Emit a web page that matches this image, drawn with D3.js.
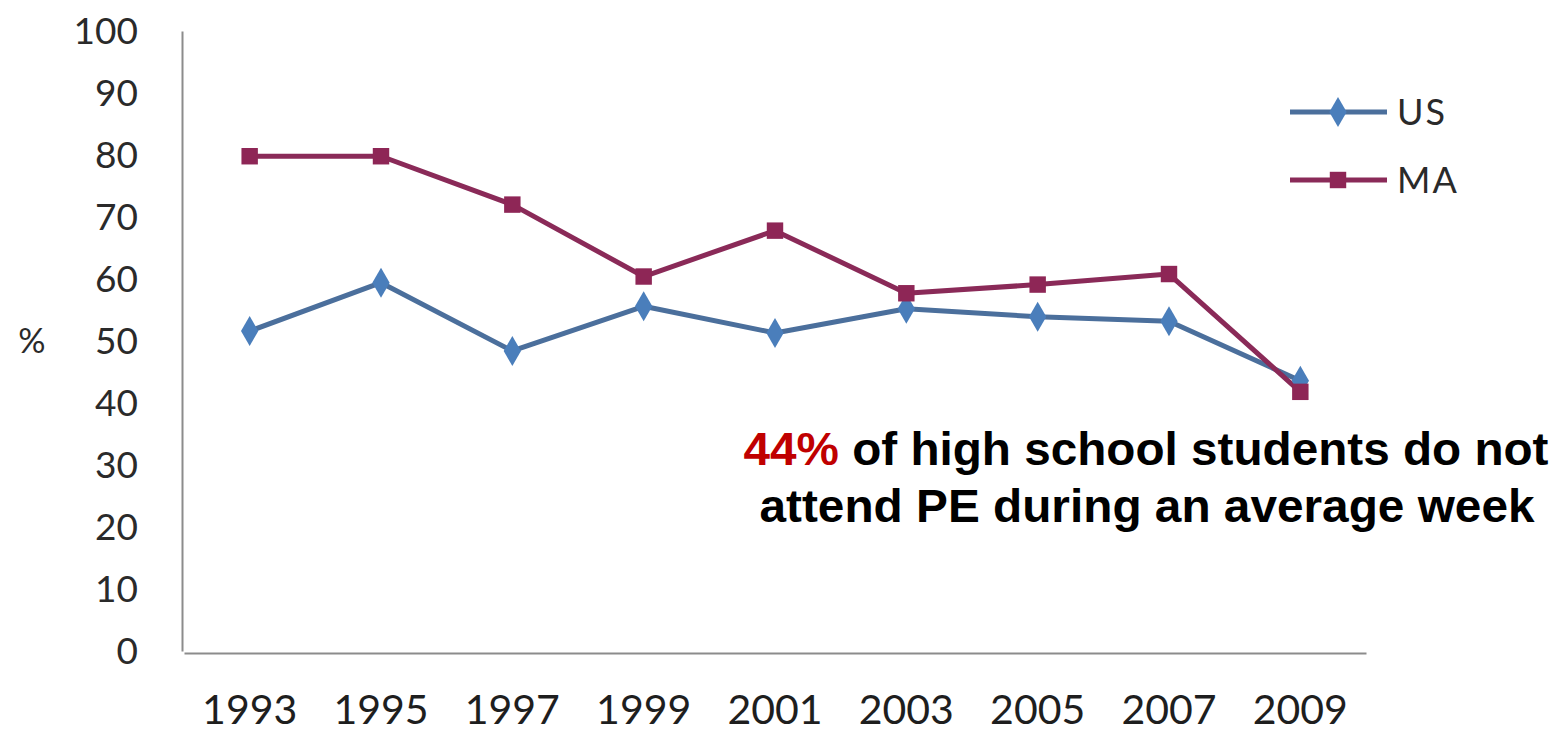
<!DOCTYPE html>
<html>
<head>
<meta charset="utf-8">
<script src="https://cdn.jsdelivr.net/npm/d3@7"></script>
<style>
  body { margin: 0; background: #fff; }
  svg { display: block; }
</style>
</head>
<body>
<svg id="chart"></svg>
<script>
// values
const years = ["1993", "1995", "1997", "1999", "2001", "2003", "2005", "2007", "2009"];
const usValues = [51.6, 59.4, 48.4, 55.6, 51.3, 55.2, 53.9, 53.2, 43.6];
const maValues = [79.8, 79.8, 72, 60.4, 67.8, 57.7, 59.1, 60.8, 41.8];
const yTicks = [0, 10, 20, 30, 40, 50, 60, 70, 80, 90, 100];
const seriesNames = ["US", "MA"];

const chart = {
    init: function (width, height) {
        const svg = d3.select("#chart")
            .attr("width", width)
            .attr("height", height);

        const x = d3.scaleBand().domain(years).range([184, 1366]);
        const y = d3.scaleLinear().domain([0, 100]).range([651, 31]);
        const cx = d => x(d) + x.bandwidth() / 2;

        // y axis
        const yAxis = svg.append("g")
            .attr("transform", "translate(182,0)")
            .call(d3.axisLeft(y).tickValues(yTicks).tickSize(0).tickSizeOuter(0).tickPadding(44));
        yAxis.select(".domain").attr("stroke", "#8c8c8c").attr("stroke-width", 2);
        yAxis.selectAll("text")
            .style("font", "37px Lato, sans-serif")
            .attr("fill", "#2a2a2a")
            .attr("dy", "0.35em");

        // x axis
        const xAxis = svg.append("g")
            .attr("transform", "translate(0,653)")
            .call(d3.axisBottom(x).tickSize(0).tickSizeOuter(0).tickPadding(42));
        xAxis.select(".domain").attr("stroke", "#8c8c8c").attr("stroke-width", 2);
        xAxis.selectAll("text")
            .style("font", "41px Lato, sans-serif")
            .attr("fill", "#1e1e1e");

        svg.append("text")
            .attr("x", 32).attr("y", y(50))
            .attr("dy", "0.35em")
            .attr("text-anchor", "middle")
            .style("font", "34px Lato, sans-serif")
            .attr("fill", "#2a2a2a")
            .text("%");

        const series = [
            { name: "US", values: usValues, line: "#4b6f9c", fill: "#4a7ebb", shape: d3.symbolDiamond, size: 260 },
            { name: "MA", values: maValues, line: "#8a2a58", fill: "#8e2656", shape: d3.symbolSquare, size: 270 }
        ];

        const line = d3.line()
            .x((d, i) => cx(years[i]))
            .y(d => y(d));

        series.forEach(s => {
            svg.append("path")
                .datum(s.values)
                .attr("d", line)
                .attr("fill", "none")
                .attr("stroke", s.line)
                .attr("stroke-width", 5)
                .attr("stroke-linejoin", "round");
        });

        series.forEach(s => {
            svg.append("g").selectAll("path")
                .data(s.values)
                .enter().append("path")
                .attr("d", d3.symbol().type(s.shape).size(s.size))
                .attr("transform", (d, i) => `translate(${cx(years[i])},${y(d)})`)
                .attr("fill", s.fill);
        });

        // legend
        const legend = svg.append("g");
        series.forEach((s, i) => {
            const ly = 112 + i * 68;
            legend.append("line")
                .attr("x1", 1290).attr("x2", 1387)
                .attr("y1", ly).attr("y2", ly)
                .attr("stroke", s.line).attr("stroke-width", 5);
            legend.append("path")
                .attr("d", d3.symbol().type(s.shape).size(s.size))
                .attr("transform", `translate(1338,${ly})`)
                .attr("fill", s.fill);
            legend.append("text")
                .attr("x", 1397).attr("y", ly)
                .attr("dy", "0.35em")
                .style("font", "36px Lato, sans-serif")
                .attr("letter-spacing", "2px")
                .attr("fill", "#2a2a2a")
                .text(seriesNames[i]);
        });

        // annotation
        const note = svg.append("g")
            .style("font", "bold 46px 'Liberation Sans', Arial, sans-serif")
            .attr("text-anchor", "middle");
        const t1 = note.append("text")
            .attr("x", 1146).attr("y", 465)
            .attr("textLength", 805)
            .attr("lengthAdjust", "spacingAndGlyphs");
        t1.append("tspan").attr("fill", "#c00000").text("44%");
        t1.append("tspan").attr("fill", "#000").text(" of high school students do not");
        note.append("text")
            .attr("x", 1147).attr("y", 522)
            .attr("textLength", 775)
            .attr("lengthAdjust", "spacingAndGlyphs")
            .attr("fill", "#000")
            .text("attend PE during an average week");
    }
};

document.addEventListener("DOMContentLoaded", function () {
    chart.init(1566, 738);
});
</script>
</body>
</html>
